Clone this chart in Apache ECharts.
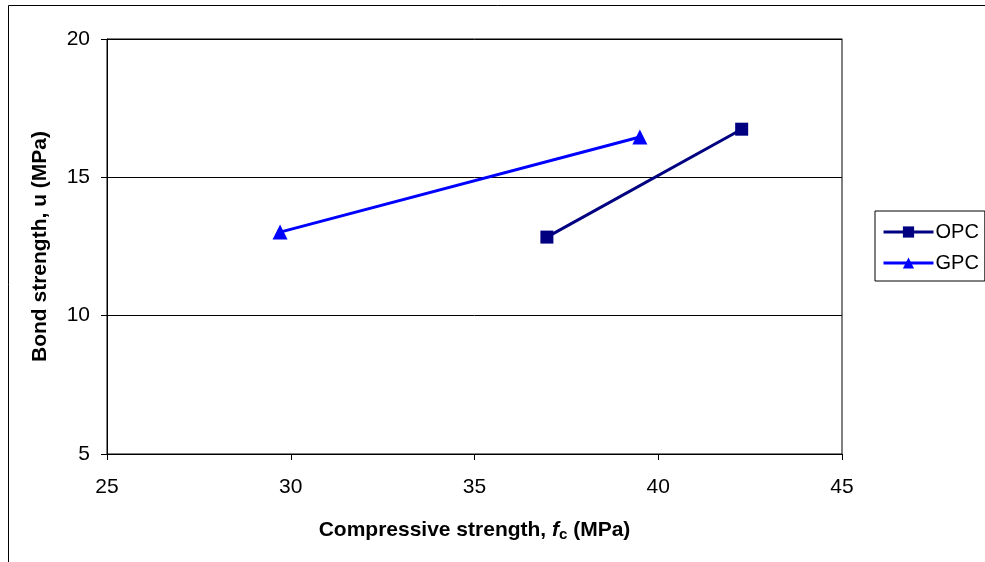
<!DOCTYPE html>
<html>
<head>
<meta charset="utf-8">
<script src="https://cdn.jsdelivr.net/npm/echarts@6/dist/echarts.min.js"></script>
<style>
html,body{margin:0;padding:0;background:#fff;overflow:hidden;}
#c{width:985px;height:562px;}
</style>
</head>
<body>
<div id="c"></div>
<script>
const seriesNames = ['OPC', 'GPC'];
const opcX = [36.97, 42.27];
const opcY = [12.84, 16.74];
const gpcX = [29.71, 39.5];
const gpcY = [13.02, 16.46];
const xTicks = [25, 30, 35, 40, 45];
const yTicks = [5, 10, 15, 20];

const font = 'Liberation Sans, Arial, sans-serif';
const chart = echarts.init(document.getElementById('c'), null, {renderer: 'canvas'});
chart.setOption({
  animation: false,
  backgroundColor: '#fff',
  graphic: [{
    type: 'rect', shape: {x: 8.5, y: 5.5, width: 1000, height: 600},
    style: {fill: 'none', stroke: '#000', lineWidth: 1}, z: -10
  }],
  grid: {left: 107, top: 39, width: 735, height: 415, show: true, borderColor: '#000', borderWidth: 1,
    backgroundColor: '#fff', containLabel: false, outerBoundsMode: 'none'},
  legend: {
    left: 875, top: 211, orient: 'vertical',
    data: seriesNames,
    itemWidth: 50, itemHeight: 14, itemGap: 11,
    padding: [11, 6, 8, 7],
    borderColor: '#000', borderWidth: 1,
    lineStyle: {width: 3},
    textStyle: {fontFamily: font, fontSize: 20, color: '#000', padding: [0,0,0,-3]}
  },
  xAxis: [{
    type: 'value', min: xTicks[0], max: xTicks[xTicks.length-1], interval: 5,
    name: 'Compressive strength, {i|f}{s|c} (MPa)', nameLocation: 'middle', nameGap: 65,
    nameTextStyle: {fontFamily: font, fontSize: 21, fontWeight: 'bold', color: '#000',
      rich: {i: {fontFamily: font, fontSize: 21, fontWeight: 'bold', fontStyle: 'italic', color: '#000'},
             s: {fontFamily: font, fontSize: 15, fontWeight: 'bold', color: '#000', verticalAlign: 'bottom', padding: [8,0,0,0]}}},
    axisLine: {lineStyle: {color: '#000', width: 1}},
    axisTick: {show: true, inside: false, length: 6, lineStyle: {color: '#000'}},
    axisLabel: {fontFamily: font, fontSize: 21, color: '#000', margin: 23},
    splitLine: {show: false}
  }],
  yAxis: [{
    type: 'value', min: yTicks[0], max: yTicks[yTicks.length-1], interval: 5,
    name: 'Bond strength, u (MPa)', nameLocation: 'middle', nameGap: 56,
    nameTextStyle: {fontFamily: font, fontSize: 21, fontWeight: 'bold', color: '#000'},
    axisLine: {show: true, lineStyle: {color: '#000', width: 1}},
    axisTick: {show: true, inside: false, length: 6, lineStyle: {color: '#000'}},
    axisLabel: {fontFamily: font, fontSize: 21, color: '#000', margin: 17},
    splitLine: {show: true, lineStyle: {color: '#000', width: 1}}
  }, {
    type: 'value', min: yTicks[0], max: yTicks[yTicks.length-1], interval: 5, position: 'right',
    axisLine: {show: true, lineStyle: {color: '#808080', width: 1}},
    axisTick: {show: false}, axisLabel: {show: false}, splitLine: {show: false}
  }],
  series: [{
    name: seriesNames[0], type: 'line',
    data: opcX.map((x, i) => [x, opcY[i]]),
    symbol: 'rect', symbolSize: 13,
    lineStyle: {color: '#000080', width: 3},
    itemStyle: {color: '#000080'}
  }, {
    name: seriesNames[1], type: 'line',
    data: gpcX.map((x, i) => [x, gpcY[i]]),
    symbol: 'triangle', symbolSize: 15,
    lineStyle: {color: '#0000FF', width: 3},
    itemStyle: {color: '#0000FF'}
  }]
});
</script>
</body>
</html>
